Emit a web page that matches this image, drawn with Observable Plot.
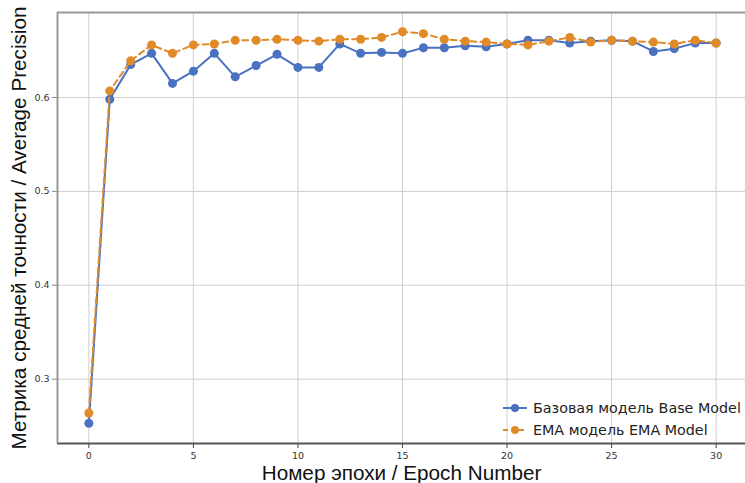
<!DOCTYPE html>
<html>
<head>
<meta charset="utf-8">
<script src="https://cdn.jsdelivr.net/npm/d3@7"></script>
<script src="https://cdn.jsdelivr.net/npm/@observablehq/plot@0.6"></script>
<style>
  html, body { margin: 0; padding: 0; background: #fff; }
  #chart { width: 745px; height: 483px; overflow: hidden; }
</style>
</head>
<body>
<div id="chart"></div>
<script>
const epochs = [0,1,2,3,4,5,6,7,8,9,10,11,12,13,14,15,16,17,18,19,20,21,22,23,24,25,26,27,28,29,30];
const baseAP = [0.253,0.598,0.635,0.647,0.615,0.628,0.647,0.622,0.634,0.646,0.632,0.632,0.657,0.647,0.648,0.647,0.653,0.653,0.655,0.654,0.657,0.661,0.661,0.658,0.660,0.661,0.660,0.649,0.652,0.658,0.658];
const emaAP  = [0.264,0.607,0.639,0.656,0.647,0.656,0.657,0.661,0.661,0.662,0.661,0.660,0.662,0.662,0.664,0.670,0.668,0.662,0.660,0.659,0.657,0.656,0.660,0.664,0.659,0.661,0.660,0.659,0.657,0.661,0.658];
const seriesNames = ["Базовая модель Base Model", "EMA модель EMA Model"];
const xTicks = [0,5,10,15,20,25,30];
const yTicks = [0.3,0.4,0.5,0.6];
const xLabel = "Номер эпохи / Epoch Number";
const yLabel = "Метрика средней точности / Average Precision";

const blue = "#4a72c0";
const orange = "#e08a28";

const base = epochs.map((e, i) => ({epoch: e, ap: baseAP[i]}));
const ema = epochs.map((e, i) => ({epoch: e, ap: emaAP[i]}));

const chart = Plot.plot({
  width: 745,
  height: 483,
  marginLeft: 57,
  marginTop: 12,
  marginBottom: 40,
  marginRight: 0,
  style: {fontFamily: "DejaVu Sans, sans-serif", fontSize: "9.5px", color: "#333", background: "#fff"},
  x: {domain: [-1.5, 31.5], range: [57, 747]},
  y: {domain: [0.2315, 0.6905]},
  marks: [
    Plot.gridX(xTicks, {stroke: "#cfcfcf", strokeOpacity: 1, strokeWidth: 1}),
    Plot.gridY(yTicks, {stroke: "#cfcfcf", strokeOpacity: 1, strokeWidth: 1}),
    Plot.axisX(xTicks, {tickSize: 5, tickPadding: 4, label: xLabel, labelAnchor: "center", labelArrow: "none", labelOffset: 36, stroke: "#444"}),
    Plot.axisY(yTicks, {tickSize: 5, tickPadding: 3, label: yLabel, labelAnchor: "center", labelArrow: "none", labelOffset: 46, stroke: "#888", tickFormat: d3.format(".1f")}),
    Plot.line(base, {x: "epoch", y: "ap", stroke: blue, strokeWidth: 2}),
    Plot.dot(base, {x: "epoch", y: "ap", fill: blue, r: 4.5}),
    Plot.line(ema, {x: "epoch", y: "ap", stroke: orange, strokeWidth: 2, strokeDasharray: "6,4"}),
    Plot.dot(ema, {x: "epoch", y: "ap", fill: orange, r: 4.5}),
    Plot.ruleY([0.2315], {stroke: "#555", strokeWidth: 2}),
    Plot.ruleY([0.6905], {stroke: "#999", strokeWidth: 2}),
    Plot.ruleX([-1.5], {stroke: "#999", strokeWidth: 2})
  ]
});

document.getElementById("chart").appendChild(chart);

const svg = d3.select(chart);
svg.selectAll('[aria-label="x-axis label"] text, [aria-label="y-axis label"] text')
  .attr("font-family", "Liberation Sans, Arial, sans-serif")
  .attr("font-size", 20.7)
  .attr("fill", "#111");

// legend (lower right, inside the frame)
const colors = [blue, orange];
const dashes = [null, "5,3"];
const leg = svg.append("g")
  .attr("font-family", "DejaVu Sans, sans-serif")
  .attr("font-size", 14.3)
  .attr("fill", "#222")
  .attr("text-anchor", "start");
seriesNames.forEach((name, i) => {
  const y = 408 + i * 22;
  leg.append("line").attr("x1", 503).attr("x2", 527).attr("y1", y).attr("y2", y)
    .attr("stroke", colors[i]).attr("stroke-width", 2).attr("stroke-dasharray", dashes[i]);
  leg.append("circle").attr("cx", 515).attr("cy", y).attr("r", 4).attr("fill", colors[i]);
  leg.append("text").attr("x", 533).attr("y", y).attr("dy", "0.35em").attr("text-anchor", "start").text(name);
});
</script>
</body>
</html>
